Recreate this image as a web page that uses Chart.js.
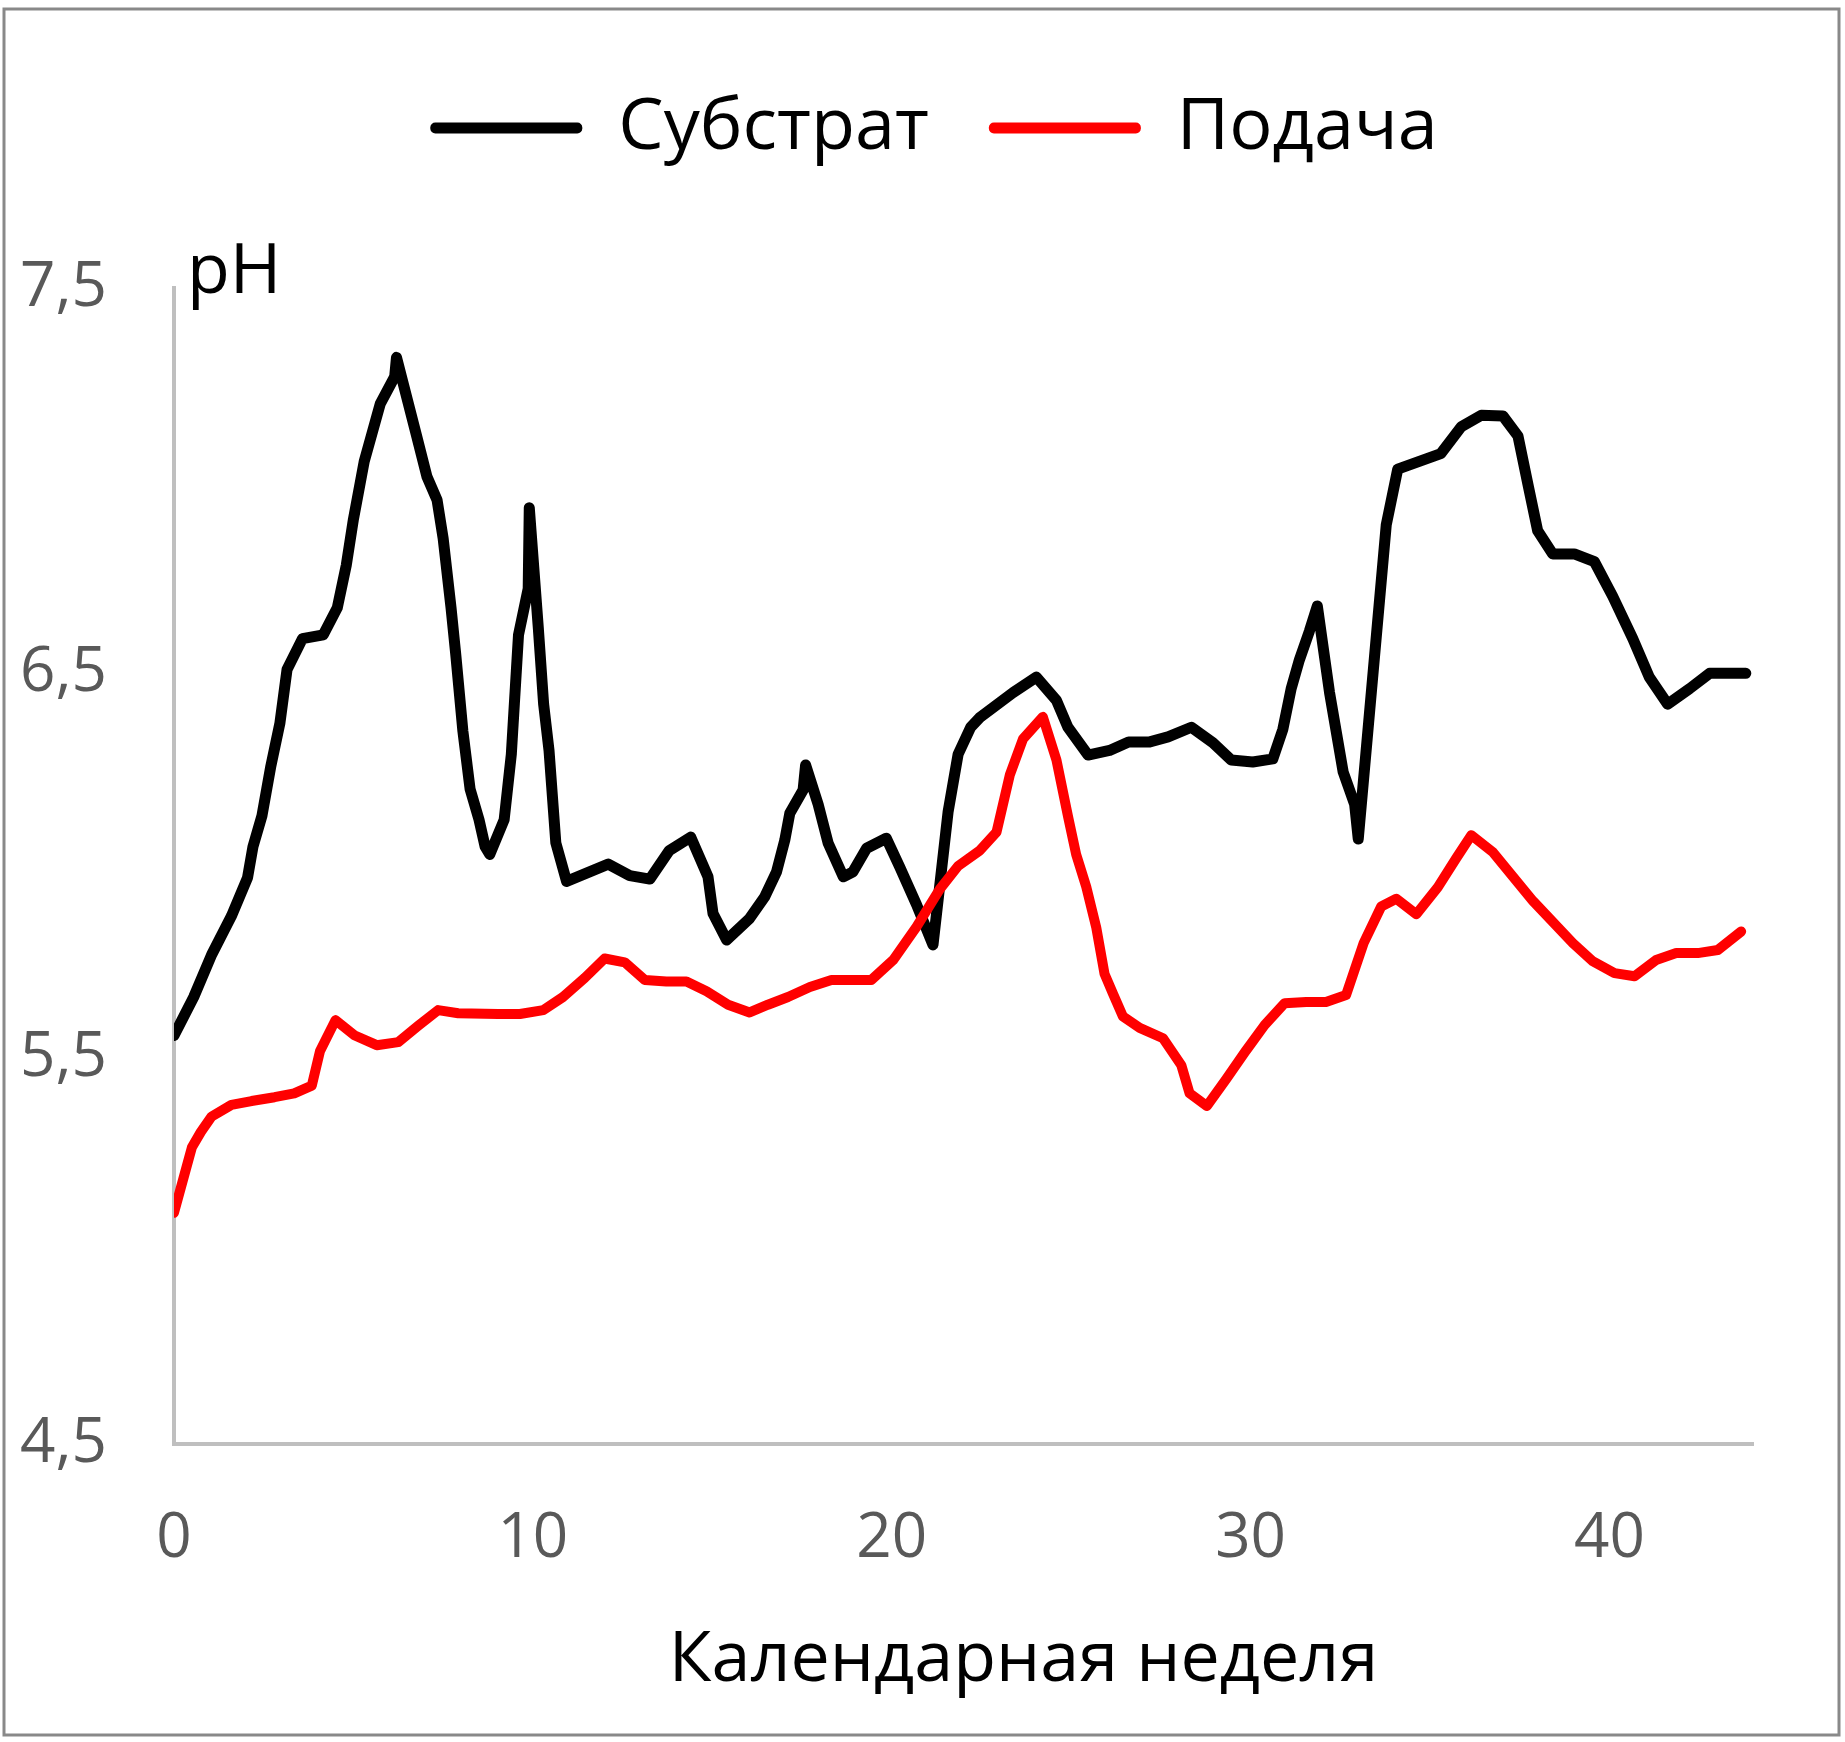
<!DOCTYPE html>
<html>
<head>
<meta charset="utf-8">
<title>pH</title>
<script src="https://cdn.jsdelivr.net/npm/chart.js@4.4.1/dist/chart.umd.min.js"></script>
<style>
    html, body { margin: 0; padding: 0; background: #ffffff; }
    #wrap { width: 1845px; height: 1742px; position: relative; }
</style>
</head>
<body>
<div id="wrap">
    <canvas id="phChart" width="1845" height="1742"></canvas>
</div>
<script>
// Substrate (black) - calendar week / pH
const substrateWeeks = [0, 0.55, 1.05, 1.6, 2.05, 2.2, 2.45, 2.7, 2.95, 3.15, 3.58, 4.16, 4.55, 4.8, 5.0, 5.3, 5.75, 6.15, 6.2,
    6.75, 7.05, 7.33, 7.5, 7.72, 7.85, 8.05, 8.25, 8.5, 8.67, 8.8, 9.2, 9.4, 9.6, 9.87, 9.9, 10.15, 10.3, 10.45, 10.64, 10.94,
    12.1, 12.7, 13.26, 13.8, 14.4, 14.88, 15.02, 15.4, 16.04, 16.46, 16.79, 17.02, 17.16, 17.53, 17.6, 17.95, 18.23, 18.65,
    18.92, 19.3, 19.85, 20.22, 20.69, 21.15, 21.57, 21.85, 22.2, 22.45, 23.38, 24.03, 24.59, 24.91, 25.47, 26.07, 26.6,
    27.19, 27.7, 28.35, 28.95, 29.46, 30.06, 30.62, 30.9, 31.13, 31.36, 31.64, 31.86, 32.2, 32.58, 32.9, 33.0, 33.78, 34.1,
    34.7, 35.3, 35.87, 36.43, 37.03, 37.45, 37.73, 38.0, 38.42, 39.02, 39.58, 40.09, 40.65, 41.11, 41.62, 42.23, 42.79, 43.8];
const substratePH = [5.56, 5.66, 5.77, 5.87, 5.97, 6.05, 6.13, 6.26, 6.37, 6.51, 6.59, 6.60, 6.67, 6.78, 6.9, 7.05, 7.2, 7.27, 7.32,
    7.12, 7.01, 6.95, 6.85, 6.67, 6.55, 6.35, 6.2, 6.12, 6.05, 6.03, 6.12, 6.29, 6.6, 6.72, 6.93, 6.62, 6.42, 6.3, 6.06, 5.96,
    6.005, 5.975, 5.966, 6.04, 6.075, 5.972, 5.877, 5.808, 5.864, 5.92, 5.985, 6.067, 6.137, 6.197, 6.262, 6.16, 6.059, 5.972,
    5.985, 6.046, 6.072, 5.998, 5.9, 5.795, 6.14, 6.29, 6.36, 6.385, 6.45, 6.49, 6.43, 6.36, 6.288, 6.30, 6.322,
    6.322, 6.335, 6.36, 6.32, 6.275, 6.27, 6.278, 6.355, 6.46, 6.535, 6.61, 6.675, 6.45, 6.244, 6.16, 6.07, 6.885, 7.03,
    7.05, 7.07, 7.14, 7.17, 7.168, 7.116, 6.99, 6.87, 6.81, 6.81, 6.79, 6.70, 6.59, 6.49, 6.42, 6.46, 6.50, 6.50];

// Feed (red) - calendar week / pH
const feedWeeks = [0, 0.5, 0.75, 1.05, 1.6, 2.16, 2.8, 3.35, 3.84, 4.07, 4.5, 5.04, 5.65, 6.25, 6.8, 7.36, 7.92, 9.03, 9.64,
    10.29, 10.84, 11.45, 12.0, 12.56, 13.12, 13.72, 14.28, 14.84, 15.44, 16.04, 16.55, 17.11, 17.72, 18.32, 19.43, 20.04,
    20.69, 21.34, 21.85, 22.45, 22.92, 23.29, 23.66, 24.21, 24.59, 24.91, 25.14, 25.42, 25.7, 25.93, 26.16, 26.44, 26.91,
    27.56, 28.07, 28.3, 28.78, 29.32, 29.88, 30.39, 30.95, 31.55, 32.1, 32.66, 33.15, 33.64, 34.06, 34.62, 35.22, 35.73,
    36.15, 36.75, 37.87, 38.98, 39.53, 40.14, 40.7, 41.3, 41.86, 42.46, 43.02, 43.67];
const feedPH = [5.1, 5.27, 5.31, 5.35, 5.38, 5.39, 5.40, 5.41, 5.43, 5.52, 5.6, 5.56, 5.535, 5.543, 5.585, 5.626, 5.618, 5.616, 5.616,
    5.626, 5.66, 5.71, 5.76, 5.75, 5.704, 5.70, 5.70, 5.675, 5.64, 5.62, 5.64, 5.66, 5.686, 5.704, 5.704, 5.756,
    5.842, 5.94, 6.0, 6.04, 6.088, 6.236, 6.33, 6.387, 6.275, 6.13, 6.03, 5.946, 5.84, 5.72, 5.67, 5.61, 5.58,
    5.553, 5.483, 5.41, 5.377, 5.447, 5.522, 5.587, 5.644, 5.647, 5.647, 5.665, 5.8, 5.895, 5.915, 5.875, 5.945, 6.02,
    6.08, 6.036, 5.909, 5.80, 5.753, 5.722, 5.714, 5.756, 5.774, 5.774, 5.782, 5.83];

const seriesNames = ['Субстрат', 'Подача'];
const xTicks = [0, 10, 20, 30, 40];
const yTicks = [4.5, 5.5, 6.5, 7.5];
const yAxisLabel = 'pH';
const xAxisLabel = 'Календарная неделя';

const FONT = "'Open Sans', 'Noto Sans', sans-serif";
const AXIS_GREY = '#bfbfbf';
const TICK_GREY = '#595959';

function toPoints(xs, ys) {
    return xs.map((x, i) => ({ x: x, y: ys[i] }));
}

// Make room above the plot for the legend (Excel-style big top margin)
const legendSpace = {
    id: 'legendSpace',
    beforeInit(chart) {
        const origFit = chart.legend.fit;
        chart.legend.fit = function () {
            origFit.call(this);
            this.height = 256;
        };
    }
};

// Frame round the picture, "pH" over the y axis and the x axis title
const decorations = {
    id: 'decorations',
    afterDraw(chart) {
        const ctx = chart.ctx;
        const area = chart.chartArea;
        ctx.save();
        ctx.strokeStyle = '#898989';
        ctx.lineWidth = 3;
        ctx.strokeRect(4, 9, 1835, 1726);

        ctx.fillStyle = '#000000';
        ctx.font = '70px ' + FONT;
        ctx.textAlign = 'left';
        ctx.textBaseline = 'alphabetic';
        ctx.fillText(yAxisLabel, area.left + 13, area.top + 5);

        ctx.font = '70px ' + FONT;
        ctx.textAlign = 'center';
        ctx.textBaseline = 'middle';
        ctx.fillText(xAxisLabel, (area.left + area.right) / 2 + 60, 1661);
        ctx.restore();
    }
};

const ctx = document.getElementById('phChart');

new Chart(ctx, {
    type: 'scatter',
    data: {
        datasets: [
            {
                label: seriesNames[0],
                data: toPoints(substrateWeeks, substratePH),
                showLine: true,
                borderColor: '#000000',
                backgroundColor: '#000000',
                borderWidth: 11,
                borderJoinStyle: 'round',
                borderCapStyle: 'round',
                pointRadius: 0,
                tension: 0,
                order: 1
            },
            {
                label: seriesNames[1],
                data: toPoints(feedWeeks, feedPH),
                showLine: true,
                borderColor: '#ff0000',
                backgroundColor: '#ff0000',
                borderWidth: 10,
                borderJoinStyle: 'round',
                borderCapStyle: 'round',
                pointRadius: 0,
                tension: 0,
                order: 0
            }
        ]
    },
    options: {
        responsive: false,
        animation: false,
        devicePixelRatio: 1,
        layout: {
            padding: { top: 32, right: 92, bottom: 0, left: 115 }
        },
        scales: {
            x: {
                type: 'linear',
                min: 0,
                max: 44,
                grid: { display: false, drawTicks: false },
                border: { display: true, color: AXIS_GREY, width: 4 },
                afterBuildTicks: (scale) => { scale.ticks = xTicks.map(v => ({ value: v })); },
                afterFit: (scale) => { scale.height = 298; },
                ticks: {
                    color: TICK_GREY,
                    font: { family: FONT, size: 62 },
                    padding: 58,
                    maxRotation: 0,
                    callback: (v) => String(v)
                }
            },
            y: {
                type: 'linear',
                min: 4.5,
                max: 7.5,
                grid: { display: false, drawTicks: false },
                border: { display: true, color: AXIS_GREY, width: 4 },
                afterBuildTicks: (scale) => { scale.ticks = yTicks.map(v => ({ value: v })); },
                afterFit: (scale) => { scale.width = 59; },
                ticks: {
                    // mirrored so the labels are not clipped to the narrow axis box
                    mirror: true,
                    crossAlign: 'near',
                    padding: -154,
                    color: TICK_GREY,
                    font: { family: FONT, size: 62 },
                    callback: (v) => v.toFixed(1).replace('.', ',')
                }
            }
        },
        plugins: {
            legend: {
                position: 'top',
                labels: {
                    color: '#000000',
                    font: { family: FONT, size: 72 },
                    boxWidth: 152,
                    boxHeight: 11,
                    padding: 60,
                    useBorderRadius: true,
                    borderRadius: 5,
                    sort: (a, b) => a.datasetIndex - b.datasetIndex,
                    generateLabels: (chart) => Chart.defaults.plugins.legend.labels.generateLabels(chart)
                        .map(item => Object.assign(item, { lineWidth: 0 }))
                }
            },
            tooltip: { enabled: false }
        }
    },
    plugins: [legendSpace, decorations]
});
</script>
</body>
</html>
